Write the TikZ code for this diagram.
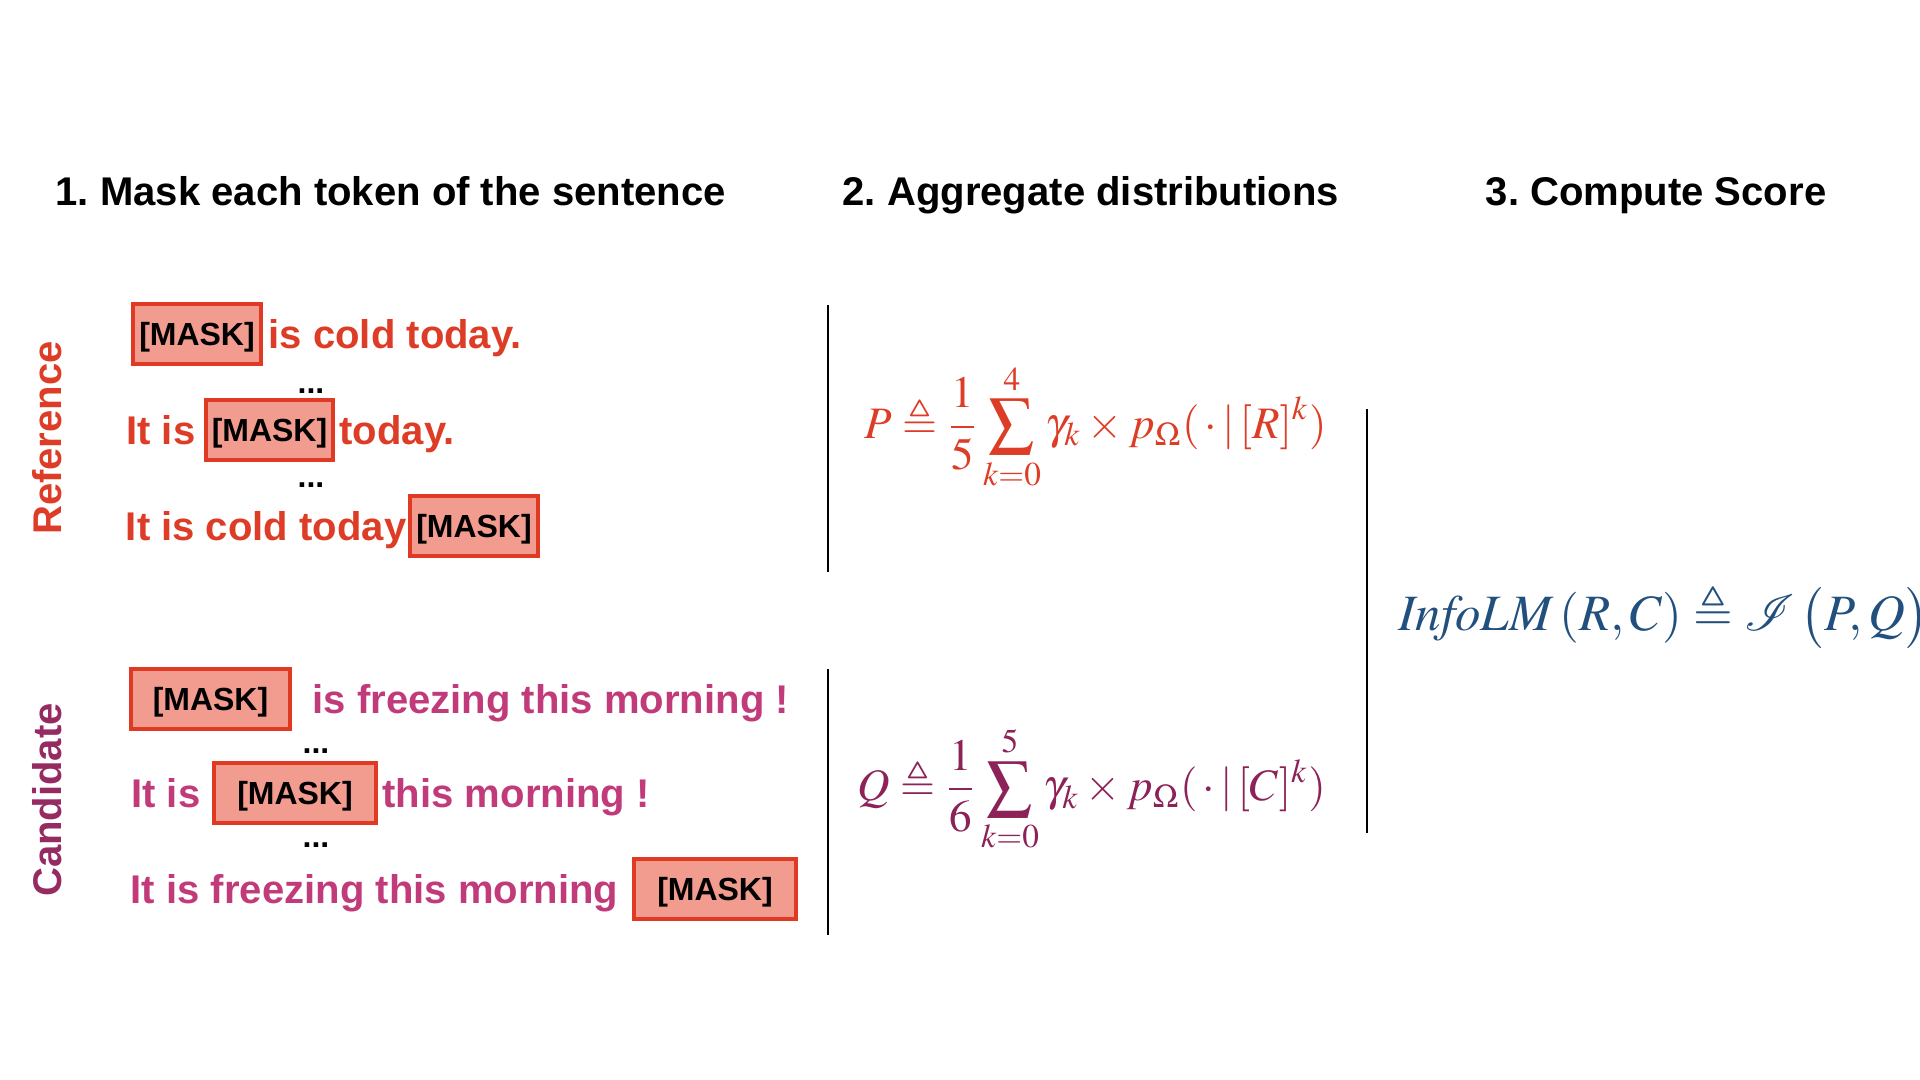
\documentclass[tikz,border=0pt]{standalone}
\usepackage{amssymb}
\usepackage{mathptmx}
\usepackage{mathrsfs}
\usepackage[no-math]{fontspec}
\setmainfont{Liberation Sans}
\usetikzlibrary{positioning}

\definecolor{refred}{HTML}{DD3D26}
\definecolor{boxred}{HTML}{E03A25}
\definecolor{boxfill}{HTML}{F29B8F}
\definecolor{candpink}{HTML}{C13B7B}
\definecolor{candplum}{HTML}{962B62}
\definecolor{qplum}{HTML}{8C2257}
\definecolor{infoblue}{HTML}{22507E}

\newcommand{\sentfont}{\fontsize{11.4}{13}\selectfont\bfseries}
\newcommand{\maskfont}{\fontsize{9.1}{11}\selectfont\bfseries}
\newcommand{\distsize}{\fontsize{12.8}{15}\selectfont}
\newcommand{\scoresize}{\fontsize{14.5}{17}\selectfont}
\frenchspacing

\begin{document}
\begin{tikzpicture}[
    sent/.style={font=\sentfont, inner sep=0pt, text height=0.29cm, text depth=0pt},
    reftxt/.style={sent, text=refred},
    candtxt/.style={sent, text=candpink},
    maskbox/.style={draw=boxred, fill=boxfill, line width=1.1pt, font=\maskfont, text=black, inner sep=0pt, text height=0.33cm, text depth=0.1cm, minimum height=0.6cm},
    heading/.style={font=\sentfont, anchor=base west, inner sep=0pt},
    side/.style={sent, rotate=90},
    dots/.style={font=\maskfont, inner sep=0pt},
    formula/.style={anchor=west, inner sep=0pt},
    divider/.style={line width=0.6pt}
  ]
    \useasboundingbox (0,0) rectangle (19.2,10.8);

    \node[heading] (head1) at (0.55,8.74) {1. Mask each token of the sentence};
    \node[heading] (head2) at (8.42,8.74) {2. Aggregate distributions};
    \node[heading] (head3) at (14.85,8.74) {3. Compute Score};

    \node[side, text=refred] (reflabel) at (0.47,6.42) {Reference};
    \node[side, text=candplum] (candlabel) at (0.47,2.80) {Candidate};

    \node[maskbox, minimum width=1.28cm] (rmask1) at (1.97,7.46) {[MASK]};
    \node[reftxt, right=0.05cm of rmask1] (rtext1) {is cold today.};
    \node[dots] (rdots1) at (3.11,6.89) {...};
    \node[maskbox, minimum width=1.27cm] (rmask2) at (2.695,6.50) {[MASK]};
    \node[reftxt, left=0.08cm of rmask2] (rtext2a) {It is};
    \node[reftxt, right=0.04cm of rmask2] (rtext2b) {today.};
    \node[dots] (rdots2) at (3.11,5.95) {...};
    \node[maskbox, minimum width=1.28cm] (rmask3) at (4.74,5.54) {[MASK]};
    \node[reftxt, left=0.01cm of rmask3] (rtext3) {It is cold today};

    \node[maskbox, minimum width=1.59cm] (cmask1) at (2.105,3.81) {[MASK]};
    \node[candtxt, right=0.20cm of cmask1] (ctext1) {is freezing this morning !};
    \node[dots] (cdots1) at (3.16,3.29) {...};
    \node[maskbox, minimum width=1.62cm] (cmask2) at (2.95,2.87) {[MASK]};
    \node[candtxt, left=0.11cm of cmask2] (ctext2a) {It is};
    \node[candtxt, right=0.04cm of cmask2] (ctext2b) {this morning !};
    \node[dots] (cdots2) at (3.16,2.35) {...};
    \node[maskbox, minimum width=1.62cm] (cmask3) at (7.15,1.91) {[MASK]};
    \node[candtxt, left=0.13cm of cmask3] (ctext3) {It is freezing this morning};

    \coordinate (d1top) at (8.28,7.75);
    \coordinate (d1bot) at (8.28,5.08);
    \coordinate (d2top) at (8.28,4.11);
    \coordinate (d2bot) at (8.28,1.45);
    \coordinate (d3top) at (13.67,6.71);
    \coordinate (d3bot) at (13.67,2.47);
    \draw[divider] (d1top) -- (d1bot);
    \draw[divider] (d2top) -- (d2bot);
    \draw[divider] (d3top) -- (d3bot);

    \node[formula, text=refred] (pdist) at (8.64,6.53) {\distsize$\displaystyle P \triangleq \frac{1}{5}\sum_{k=0}^{4}\gamma_k\times p_{\Omega}(\,\cdot\,|\,[R]^k)$};
    \node[formula, text=qplum] (qdist) at (8.57,2.91) {\distsize$\displaystyle Q \triangleq \frac{1}{6}\sum_{k=0}^{5}\gamma_k\times p_{\Omega}(\,\cdot\,|\,[C]^k)$};
    \node[formula, text=infoblue] (score) at (13.98,4.64) {\scoresize$\mathit{InfoLM}\,(R,C)\triangleq\mathscr{I}\,\big(P,Q\big)$};
  \end{tikzpicture}
\end{document}
